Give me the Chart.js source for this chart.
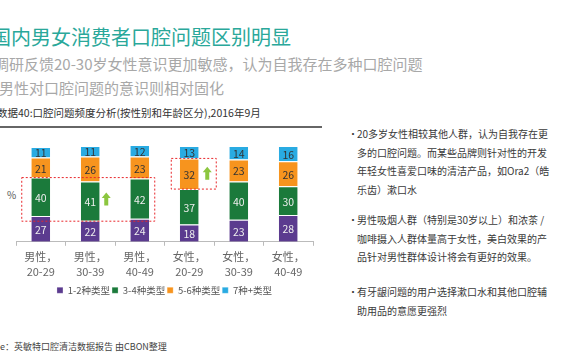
<!DOCTYPE html>
<html>
<head>
<meta charset="utf-8">
<script src="https://cdn.jsdelivr.net/npm/chart.js@4"></script>
<style>
  body { margin: 0; width: 570px; height: 360px; background: #fff; overflow: hidden; position: relative;
         font-family: "Noto Sans CJK SC", "Noto Sans", sans-serif; }
  .t { position: absolute; white-space: nowrap; }
  #title { left: -9px; top: 22px; font-size: 20px; color: #2aa89a; }
  #sub1 { left: -6px; top: 53px; font-size: 15px; color: #a8a8a8; }
  #sub2 { left: -1px; top: 77px; font-size: 15px; color: #a8a8a8; }
  #cap { left: -3px; top: 105px; font-size: 10.5px; color: #333; }
  #rule { position: absolute; left: 0; top: 126px; width: 322px; height: 2px; background: #666; }
  #pct { left: 7px; top: 187px; font-size: 10px; color: #555; }
  #src { left: 0; top: 340px; font-size: 9px; color: #444; }
  #wrap { position: absolute; left: 0; top: 130px; width: 330px; height: 175px; }
  #notes { position: absolute; left: 348px; top: 125px; font-size: 10px; line-height: 18.7px; color: #3a3a3a; }
  #notes p { margin: 0; padding-left: 9px; position: relative; white-space: nowrap; }
  #notes p::before { content: "•"; position: absolute; left: 0; }
  #p2 { margin-top: 11px !important; }
  #p3 { margin-top: 16px !important; }
</style>
</head>
<body>
<div class="t" id="title">国内男女消费者口腔问题区别明显</div>
<div class="t" id="sub1">调研反馈20-30岁女性意识更加敏感，认为自我存在多种口腔问题</div>
<div class="t" id="sub2">男性对口腔问题的意识则相对固化</div>
<div class="t" id="cap">数据40:口腔问题频度分析(按性别和年龄区分),2016年9月</div>
<div id="rule"></div>
<div class="t" id="pct">%</div>
<div id="wrap"><canvas id="chart"></canvas></div>
<div id="notes">
  <p>20多岁女性相较其他人群，认为自我存在更<br>多的口腔问题。而某些品牌则针对性的开发<br>年轻女性喜爱口味的清洁产品，如Ora2（皓<br>乐齿）漱口水</p>
  <p id="p2">男性吸烟人群（特别是30岁以上）和浓茶 /<br>咖啡摄入人群体量高于女性，美白效果的产<br>品针对男性群体设计将会有更好的效果。</p>
  <p id="p3">有牙龈问题的用户选择漱口水和其他口腔辅<br>助用品的意愿更强烈</p>
</div>
<div class="t" id="src">e：英敏特口腔清洁数据报告 由CBON整理</div>
<script>
var categories = [['男性，', '20-29'], ['男性，', '30-39'], ['男性，', '40-49'],
                  ['女性，', '20-29'], ['女性，', '30-39'], ['女性，', '40-49']];
var seriesNames = ['1-2种类型', '3-4种类型', '5-6种类型', '7种+类型'];
var type12 = [27, 22, 24, 18, 23, 28];
var type34 = [40, 41, 42, 37, 40, 30];
var type56 = [21, 26, 23, 32, 23, 26];
var type7p = [11, 11, 12, 13, 14, 16];

var colors = ['#5b3b8f', '#1b7a3b', '#f7941e', '#29abe2'];
var labelColors = ['#eeeeee', '#eeeeee', '#333333', '#333333'];

var valueLabels = {
  id: 'valueLabels',
  afterDatasetsDraw: function(chart) {
    var ctx = chart.ctx;
    ctx.save();
    ctx.font = '10.5px "Noto Sans CJK SC", sans-serif';
    ctx.textAlign = 'center';
    ctx.textBaseline = 'middle';
    chart.data.datasets.forEach(function(ds, i) {
      ctx.fillStyle = labelColors[i];
      chart.getDatasetMeta(i).data.forEach(function(bar, j) {
        ctx.fillText(ds.data[j], bar.x, (bar.y + bar.base) / 2 + 1);
      });
    });
    ctx.restore();
  }
};

function upArrow(ctx, cx, cy) {
  ctx.beginPath();
  ctx.moveTo(cx, cy - 7);
  ctx.lineTo(cx + 4.5, cy - 1.5);
  ctx.lineTo(cx + 2, cy - 1.5);
  ctx.lineTo(cx + 2, cy + 6);
  ctx.lineTo(cx - 2, cy + 6);
  ctx.lineTo(cx - 2, cy - 1.5);
  ctx.lineTo(cx - 4.5, cy - 1.5);
  ctx.closePath();
  ctx.fill();
}

var highlights = {
  id: 'highlights',
  afterDatasetsDraw: function(chart) {
    var ctx = chart.ctx, x = chart.scales.x, y = chart.scales.y;
    ctx.save();
    ctx.strokeStyle = '#e8262a';
    ctx.fillStyle = '#8cc63f';
    ctx.lineWidth = 1;
    ctx.setLineDash([2, 2]);
    // box 1: 3-4 types of men
    var top1 = 0, bot1 = 100;
    for (var i = 0; i < 3; i++) {
      top1 = Math.max(top1, type12[i] + type34[i]);
      bot1 = Math.min(bot1, type12[i]);
    }
    var l1 = x.getPixelForValue(0) - 19, r1 = x.getPixelForValue(2) + 15;
    var t1 = y.getPixelForValue(top1), b1 = y.getPixelForValue(bot1 - 0.5);
    ctx.strokeRect(l1, t1, r1 - l1, b1 - t1);
    // box 2: 5-6 types of women 20-29
    var l2 = x.getPixelForValue(3) - 18, r2 = x.getPixelForValue(3) + 27;
    var t2 = y.getPixelForValue(type12[3] + type34[3] + type56[3]);
    var b2 = y.getPixelForValue(type12[3] + type34[3]);
    ctx.strokeRect(l2, t2, r2 - l2, b2 - t2);
    ctx.setLineDash([]);
    upArrow(ctx, x.getPixelForValue(1) + 16, (t1 + b1) / 2);
    upArrow(ctx, x.getPixelForValue(3) + 18, (t2 + b2) / 2);
    ctx.restore();
  }
};

var series = [type12, type34, type56, type7p];
new Chart(document.getElementById('chart'), {
  type: 'bar',
  data: {
    labels: categories,
    datasets: series.map(function(d, i) {
      return {
        label: seriesNames[i],
        data: d,
        backgroundColor: colors[i],
        borderColor: '#ffffff',
        borderWidth: { top: 1, bottom: 0, left: 0, right: 0 },
        borderSkipped: false,
        categoryPercentage: 1,
        barPercentage: 0.38
      };
    })
  },
  options: {
    responsive: true,
    maintainAspectRatio: false,
    animation: false,
    layout: { padding: { left: 16, right: 17, top: 15, bottom: 0 } },
    plugins: {
      legend: {
        position: 'bottom',
        labels: {
          boxWidth: 6, boxHeight: 6, padding: 2,
          color: '#555',
          font: { size: 9.5, family: '"Noto Sans CJK SC", sans-serif' }
        }
      },
      tooltip: { enabled: false }
    },
    scales: {
      x: {
        stacked: true,
        grid: { display: true, drawOnChartArea: false, offset: true, tickLength: 4, color: '#bbb' },
        border: { color: '#bbb' },
        ticks: { color: '#666', padding: 4, font: { size: 11, family: '"Noto Sans CJK SC", sans-serif', lineHeight: 1.35 } }
      },
      y: { stacked: true, display: false, min: 0, max: 101 }
    }
  },
  plugins: [valueLabels, highlights]
});
</script>
</body>
</html>
